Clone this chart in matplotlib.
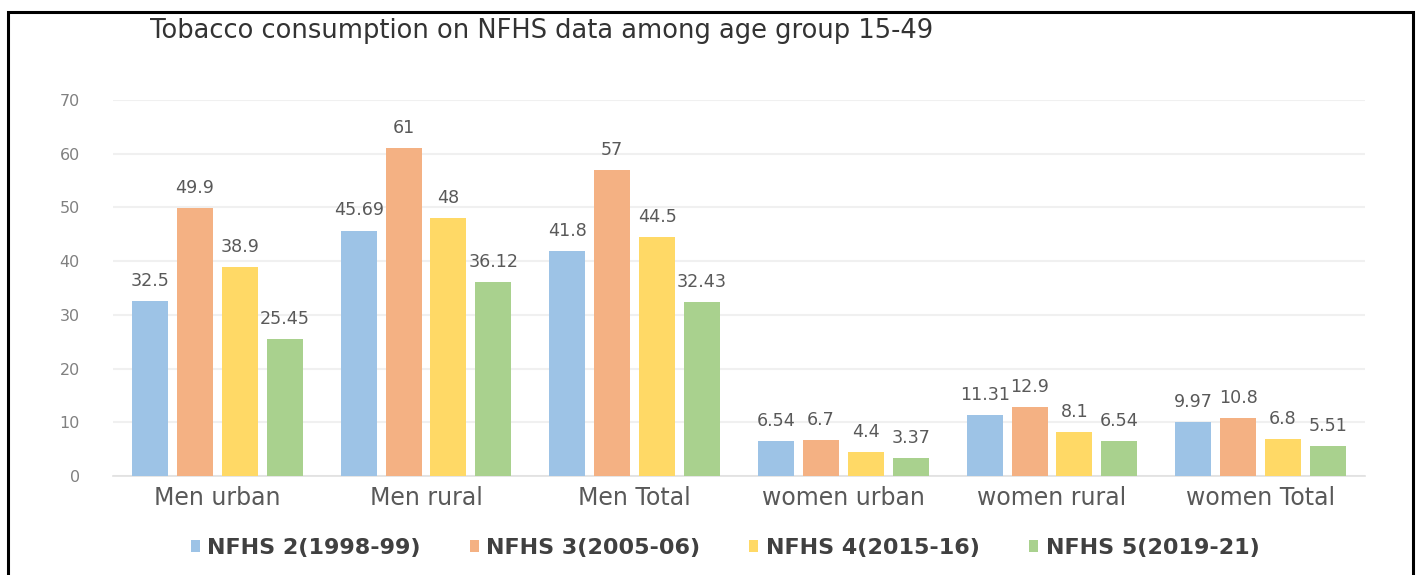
import numpy as np
import matplotlib.pyplot as plt
from matplotlib.patches import Rectangle

plt.rcParams['font.family'] = ['DejaVu Sans']

categories = ['Men urban', 'Men rural', 'Men Total', 'women urban', 'women rural', 'women Total']
series_names = ['NFHS 2(1998-99)', 'NFHS 3(2005-06)', 'NFHS 4(2015-16)', 'NFHS 5(2019-21)']
nfhs2 = [32.5, 45.69, 41.8, 6.54, 11.31, 9.97]
nfhs3 = [49.9, 61, 57, 6.7, 12.9, 10.8]
nfhs4 = [38.9, 48, 44.5, 4.4, 8.1, 6.8]
nfhs5 = [25.45, 36.12, 32.43, 3.37, 6.54, 5.51]
value_labels = [
    ['32.5', '45.69', '41.8', '6.54', '11.31', '9.97'],
    ['49.9', '61', '57', '6.7', '12.9', '10.8'],
    ['38.9', '48', '44.5', '4.4', '8.1', '6.8'],
    ['25.45', '36.12', '32.43', '3.37', '6.54', '5.51'],
]
bar_colors = ['#9DC3E6', '#F4B183', '#FFD966', '#A9D18E']

fig = plt.figure(figsize=(14.19, 5.75), dpi=100)
ax = fig.add_axes([113 / 1419, 1 - 476 / 575, 1252 / 1419, 376 / 575])

x = np.arange(len(categories))
pitch = 0.215
width = 0.172
for k, (vals, name, col) in enumerate(zip([nfhs2, nfhs3, nfhs4, nfhs5], series_names, bar_colors)):
    pos = x + (k - 1.5) * pitch
    bars = ax.bar(pos, vals, width=width, color=col, label=name, zorder=3)
    ax.bar_label(bars, labels=value_labels[k], padding=8, fontsize=12.6, color='#595959', zorder=4)

ax.set_xlim(-0.5, len(categories) - 0.5)
ax.set_ylim(0, 70)
ax.set_yticks(np.arange(0, 71, 10))
ax.set_xticks(x)
ax.set_xticklabels(categories, fontsize=17, color='#595959')
ax.tick_params(axis='x', length=0, pad=7)
ax.tick_params(axis='y', length=0, pad=24, labelsize=11.5, labelcolor='#808080')

ax.grid(axis='y', color='#f0f0f0', linewidth=1.5, zorder=0)
for s in ['top', 'right', 'left']:
    ax.spines[s].set_visible(False)
ax.spines['bottom'].set_color('#e0e0e0')
ax.spines['bottom'].set_linewidth(1.2)

fig.text(150 / 1419, 1 - 31 / 575, 'Tobacco consumption on NFHS data among age group 15-49',
         fontsize=18.5, color='#333333', va='center', ha='left')

leg = fig.legend(loc='center', bbox_to_anchor=(725 / 1419, 1 - 548 / 575), ncol=4, frameon=False,
                 handlelength=0.4, handleheight=0.4, handletextpad=0.35, columnspacing=2.2,
                 prop={'weight': 'bold', 'size': 16})
for t in leg.get_texts():
    t.set_color('#404040')

# outer frame, open at the bottom edge
fig.patches.append(Rectangle((8 / 1419, -0.01), 1405 / 1419, 1 - 12 / 575 + 0.01,
                             transform=fig.transFigure, fill=False, edgecolor='black',
                             linewidth=2.2))

fig.savefig('out.png', dpi=100)
